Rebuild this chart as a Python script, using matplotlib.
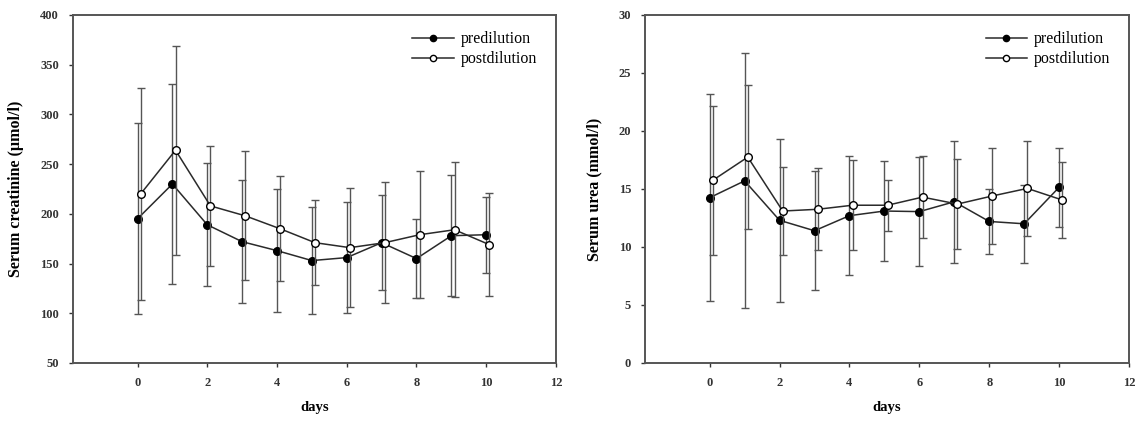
import numpy as np
import matplotlib.pyplot as plt
from matplotlib.lines import Line2D

plt.rcParams['font.family'] = ['Liberation Serif', 'DejaVu Serif']

# ---------------------------------------------------------------------------
# Data (mean +/- SD per day)
# ---------------------------------------------------------------------------
days = np.arange(0, 11)

creat_pre = [195, 230, 189, 172, 163, 153, 156, 171, 155, 178, 179]
creat_pre_sd = [96, 101, 62, 62, 62, 54, 56, 48, 40, 61, 38]
creat_post = [220, 264, 208, 198, 185, 171, 166, 171, 179, 184, 169]
creat_post_sd = [107, 105, 60, 65, 53, 43, 60, 61, 64, 68, 52]

urea_pre = [14.25, 15.7, 12.3, 11.4, 12.7, 13.1, 13.05, 13.9, 12.2, 12.0, 15.15]
urea_pre_sd = [8.9, 11.0, 7.0, 5.15, 5.15, 4.3, 4.7, 5.25, 2.8, 3.35, 3.4]
urea_post = [15.75, 17.75, 13.1, 13.25, 13.6, 13.6, 14.3, 13.7, 14.4, 15.05, 14.05]
urea_post_sd = [6.4, 6.2, 3.8, 3.55, 3.9, 2.2, 3.55, 3.85, 4.15, 4.1, 3.3]

panels = [
	dict(pre=creat_pre, pre_sd=creat_pre_sd, post=creat_post, post_sd=creat_post_sd,
		 ylabel='Serum creatinine (µmol/l)', ylim=(50, 400), yticks=np.arange(50, 401, 50),
		 rect=[0.0642, 0.1378, 0.4248, 0.8266]),
	dict(pre=urea_pre, pre_sd=urea_pre_sd, post=urea_post, post_sd=urea_post_sd,
		 ylabel='Serum urea (mmol/l)', ylim=(0, 30), yticks=np.arange(0, 31, 5),
		 rect=[0.5673, 0.1378, 0.4257, 0.8266]),
]

line_col = '#2a2a2a'
err_col = '#555555'

fig = plt.figure(figsize=(11.37, 4.21), dpi=100)

for p in panels:
	ax = fig.add_axes(p['rect'])
	ax.errorbar(days, p['pre'], yerr=p['pre_sd'], fmt='-o', color=line_col,
				ecolor=err_col, elinewidth=1.0, capsize=3.2, capthick=1.0, lw=1.1,
				ms=5.5, mfc='black', mec='black', zorder=3)
	ax.errorbar(days + 0.09, p['post'], yerr=p['post_sd'], fmt='-o', color=line_col,
				ecolor=err_col, elinewidth=1.0, capsize=3.2, capthick=1.0, lw=1.1,
				ms=5.5, mfc='white', mec='black', zorder=4)

	ax.set_xlim(-1.85, 12)
	ax.set_xticks(np.arange(0, 13, 2))
	ax.set_ylim(*p['ylim'])
	ax.set_yticks(p['yticks'])
	ax.tick_params(direction='out', length=3, width=1, colors='#333333',
				   labelsize=9, pad=7)
	for lab in ax.get_xticklabels() + ax.get_yticklabels():
		lab.set_fontweight('bold')
	for spine in ax.spines.values():
		spine.set_edgecolor('#555555')
		spine.set_linewidth(1.4)

	ax.set_xlabel('days', fontsize=10.5, fontweight='bold', labelpad=9)
	ax.set_ylabel(p['ylabel'], fontsize=11.5, fontweight='bold', labelpad=12)

	handles = [
		Line2D([], [], color=line_col, lw=1.1, marker='o', ms=4.5, mfc='black', mec='black'),
		Line2D([], [], color=line_col, lw=1.1, marker='o', ms=4.5, mfc='white', mec='black'),
	]
	ax.legend(handles, ['predilution', 'postdilution'], loc='upper right',
			  bbox_to_anchor=(0.985, 0.985), frameon=False, fontsize=11.5,
			  handlelength=2.6, handletextpad=0.45, labelspacing=0.25, borderaxespad=0.3)

fig.savefig('out.png', dpi=100, facecolor='white')
